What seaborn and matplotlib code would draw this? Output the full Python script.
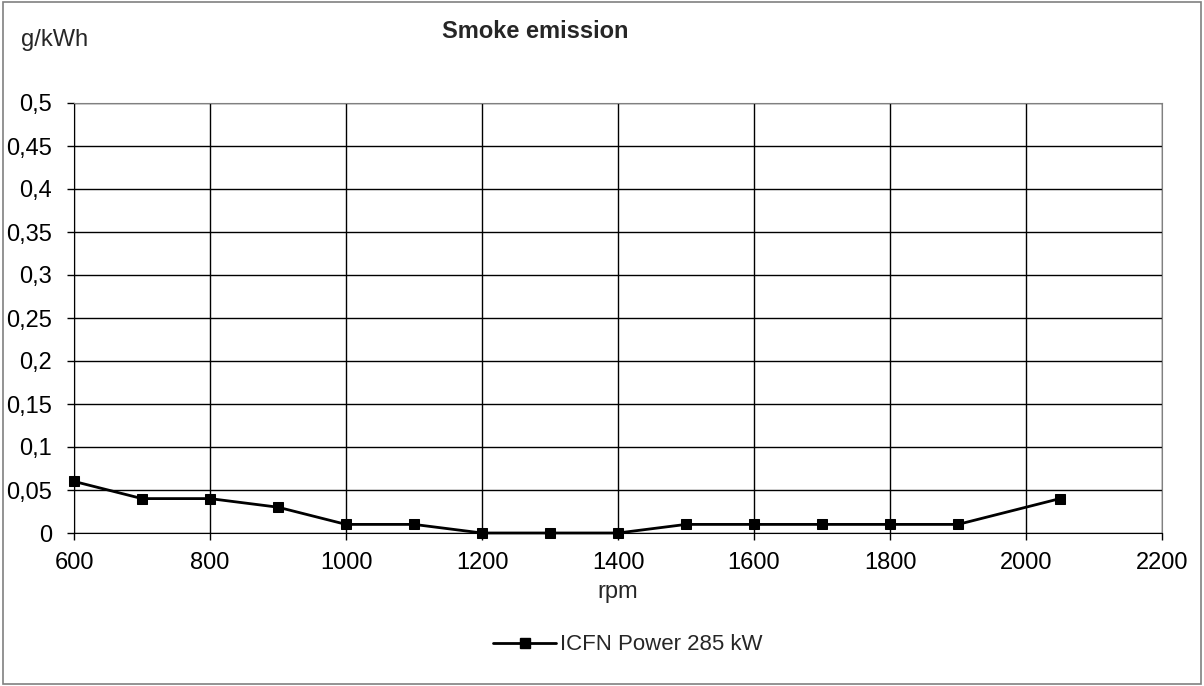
import numpy as np
import pandas as pd
import matplotlib
matplotlib.use("Agg")
import matplotlib.pyplot as plt
import seaborn as sns
from matplotlib.ticker import FuncFormatter, MultipleLocator
from matplotlib.patches import Rectangle

rpm = [600, 700, 800, 900, 1000, 1100, 1200, 1300, 1400, 1500, 1600, 1700, 1800, 1900, 2050]
smoke = [0.06, 0.04, 0.04, 0.03, 0.01, 0.01, 0.0, 0.0, 0.0, 0.01, 0.01, 0.01, 0.01, 0.01, 0.04]
seriesName = "ICFN Power 285 kW"

sns.set_style("white")
plt.rcParams['font.family'] = ['Liberation Sans', 'DejaVu Sans']
fontSize = 17

df = pd.DataFrame({"rpm": rpm, "smoke": smoke, "series": seriesName})

fig = plt.figure(figsize=(12.04, 6.86), dpi=100)
ax = fig.add_axes([74 / 1204, 1 - 533 / 686, (1162 - 74) / 1204, (533 - 103) / 686])

sns.lineplot(data=df, x="rpm", y="smoke", hue="series", palette=["black"],
             marker="s", markersize=7, linewidth=2, markeredgecolor="black",
             ax=ax, legend=False, clip_on=False, zorder=5)

ax.set_xlim(600, 2200)
ax.set_ylim(0, 0.5)
ax.xaxis.set_major_locator(MultipleLocator(200))
ax.yaxis.set_major_locator(MultipleLocator(0.05))

def commaFmt(v, pos):
    s = f"{v:.2f}".rstrip("0").rstrip(".")
    return s.replace(".", ",")

ax.yaxis.set_major_formatter(FuncFormatter(commaFmt))
ax.xaxis.set_major_formatter(FuncFormatter(lambda v, p: f"{int(v)}"))
ax.grid(True, color="black", linewidth=1)
ax.tick_params(axis="both", direction="out", length=5, width=1, colors="black",
               labelsize=fontSize, left=True, bottom=True)
ax.tick_params(axis="x", pad=9)
ax.tick_params(axis="y", pad=11)
for side in ["left", "bottom"]:
    ax.spines[side].set_color("black")
for side in ["top", "right"]:
    ax.spines[side].set_color("#808080")
ax.set_xlabel("rpm", fontsize=fontSize, labelpad=5)
ax.set_ylabel("")

fig.text(55 / 1204, 1 - 40 / 686, "g/kWh", fontsize=fontSize, ha="center", va="center")
fig.text(535 / 1204, 1 - 31 / 686, "Smoke emission", fontsize=fontSize, fontweight="bold",
         ha="center", va="center")

handle = plt.Line2D([], [], color="black", marker="s", markersize=7, linewidth=2)
fig.legend([handle], [seriesName], loc="center", bbox_to_anchor=(628 / 1204, 1 - 645 / 686),
           frameon=False, fontsize=16, handlelength=2.8, handletextpad=0.2)

fig.patches.append(Rectangle((3 / 1204, 2 / 686), 1198 / 1204, 682 / 686, transform=fig.transFigure,
                             fill=False, edgecolor="#808080", linewidth=1.2))

fig.savefig("out.png", dpi=100)
